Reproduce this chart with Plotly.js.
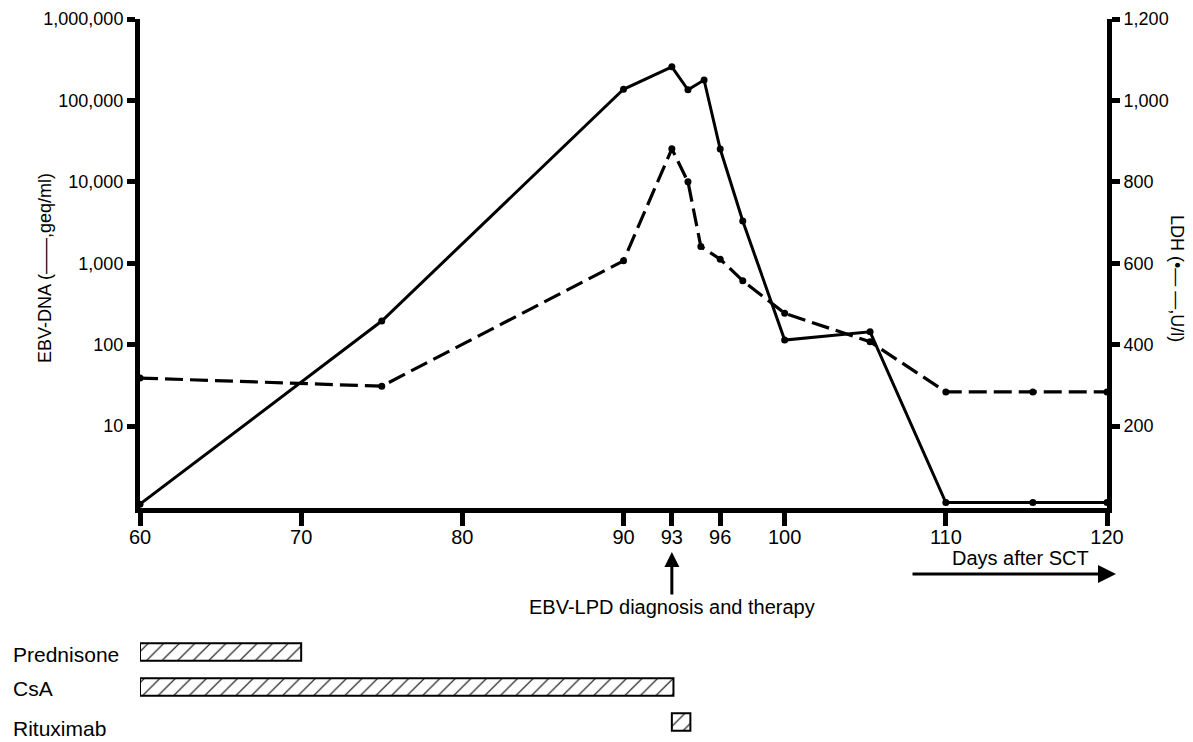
<!DOCTYPE html>
<html>
<head>
<meta charset="utf-8">
<script src="https://cdn.plot.ly/plotly-3.0.1.min.js"></script>
<style>html,body{margin:0;padding:0;background:#fff;}#chart{width:1193px;height:742px;}</style>
</head>
<body>
<div id="chart"></div>
<script>
// EBV-DNA (solid line, left log axis, geq/ml)
const ebvDays = [60, 75, 90, 93, 94, 95, 96, 97.4, 100, 105.3, 110, 115.4, 120];
const ebvValues = [1.1, 195, 137000, 259000, 135000, 178000, 25300, 3300, 114, 144, 1.15, 1.15, 1.15];

// LDH (dashed line, right linear axis, U/l)
const ldhDays = [60, 75, 90, 93, 94, 94.8, 96, 97.4, 100, 105.3, 110, 115.4, 120];
const ldhValues = [318, 298, 606, 881, 800, 641, 610, 557, 477, 407, 284, 284, 284];

// Therapy timeline
const drugNames = ['Prednisone', 'CsA', 'Rituximab'];
const drugStart = [60, 60, 93];
const drugEnd = [70, 93.1, 94.15];
const drugRow = [0, 1, 2];

// Axis ticks
const xTicks = [60, 70, 80, 90, 93, 96, 100, 110, 120];
const leftTickVals = [10, 100, 1000, 10000, 100000, 1000000];
const leftTickText = ['10', '100', '1,000', '10,000', '100,000', '1,000,000'];
const rightTickVals = [200, 400, 600, 800, 1000, 1200];
const rightTickText = ['200', '400', '600', '800', '1,000', '1,200'];

const FONT = 'Liberation Sans, Arial, Helvetica, sans-serif';

const traces = [
  {
    x: ebvDays, y: ebvValues, type: 'scatter', mode: 'lines+markers',
    xaxis: 'x', yaxis: 'y', cliponaxis: false,
    line: {color: '#000', width: 3},
    marker: {color: '#000', size: 7}
  },
  {
    x: ldhDays, y: ldhValues, type: 'scatter', mode: 'lines+markers',
    xaxis: 'x', yaxis: 'y3', cliponaxis: false,
    line: {color: '#000', width: 3.2, dash: '18px,7px'},
    marker: {color: '#000', size: 7}
  },
  {
    type: 'bar', orientation: 'h',
    y: drugRow, base: drugStart,
    x: drugEnd.map((e, i) => e - drugStart[i]),
    xaxis: 'x2', yaxis: 'y2', width: 0.5,
    marker: {
      color: '#fff',
      line: {color: '#000', width: 2},
      pattern: {shape: '/', fgcolor: '#000', bgcolor: '#fff', size: 11, solidity: 0.1}
    }
  }
];

const PL = 140, PR = 1107, PT = 19, PB = 742;
const W = PR - PL, H = PB - PT;
const px2x = p => (p - PL) / W;
const py2y = p => (PB - p) / H;
const pxDay = p => 60 + (p - PL) / (W / 60);

const axisCommon = {
  showgrid: false, zeroline: false, showline: true,
  linecolor: '#000', linewidth: 5, ticks: 'outside', tickcolor: '#000',
  tickfont: {family: FONT, size: 18, color: '#000'}
};

function label(xp, yp, text, size, extra) {
  return Object.assign({
    xref: 'paper', yref: 'paper', x: px2x(xp), y: py2y(yp), text: text,
    showarrow: false, xanchor: 'center', yanchor: 'middle',
    font: {family: FONT, size: size, color: '#000'}
  }, extra || {});
}

const layout = {
  width: 1193, height: 742,
  margin: {l: PL, r: 1193 - PR, t: PT, b: 0},
  paper_bgcolor: '#fff', plot_bgcolor: '#fff',
  showlegend: false,
  font: {family: FONT, color: '#000'},
  xaxis: Object.assign({}, axisCommon, {
    range: [60, 120], tickmode: 'array', tickvals: xTicks,
    ticklen: 13, tickwidth: 5, anchor: 'y', ticklabelstandoff: -6,
    tickfont: {family: FONT, size: 20, color: '#000'}
  }),
  yaxis: Object.assign({}, axisCommon, {
    type: 'log', range: [0, 6], domain: [py2y(507.5), 1],
    tickmode: 'array', tickvals: leftTickVals, ticktext: leftTickText,
    ticklen: 8, tickwidth: 5, anchor: 'x'
  }),
  yaxis3: Object.assign({}, axisCommon, {
    range: [0, 1200], overlaying: 'y', side: 'right', anchor: 'x',
    tickmode: 'array', tickvals: rightTickVals, ticktext: rightTickText,
    ticklen: 8, tickwidth: 5
  }),
  xaxis2: {range: [60, 120], anchor: 'y2', visible: false, showgrid: false, zeroline: false},
  yaxis2: {range: [2.571, -0.457], domain: [0, py2y(636)], anchor: 'x2', visible: false, showgrid: false, zeroline: false},
  annotations: [
    label(45, 268, 'EBV-DNA (——,geq/ml)', 18, {textangle: -90}),
    label(1177, 278, 'LDH (•— —,U/l)', 18, {textangle: 90}),
    {xref: 'x', yref: 'paper', x: 93, y: py2y(552), text: 'EBV-LPD diagnosis and therapy',
     showarrow: true, ax: 0, ay: 55, arrowhead: 2, arrowsize: 1, arrowwidth: 3, arrowcolor: '#000',
     font: {family: FONT, size: 20, color: '#000'}},
    label(1020, 558, 'Days after SCT', 20),
    {xref: 'x', yref: 'paper', x: pxDay(1116), y: py2y(574), text: '',
     showarrow: true, axref: 'x', ax: pxDay(911), ayref: 'pixel', ay: 0,
     arrowhead: 2, arrowsize: 1.2, arrowwidth: 3, arrowcolor: '#000'},
    label(11, 654, drugNames[0], 21, {xanchor: 'left'}),
    label(11, 688, drugNames[1], 21, {xanchor: 'left'}),
    label(11, 728, drugNames[2], 21, {xanchor: 'left'})
  ]
};

Plotly.newPlot('chart', traces, layout, {staticPlot: true, displayModeBar: false});
</script>
</body>
</html>
